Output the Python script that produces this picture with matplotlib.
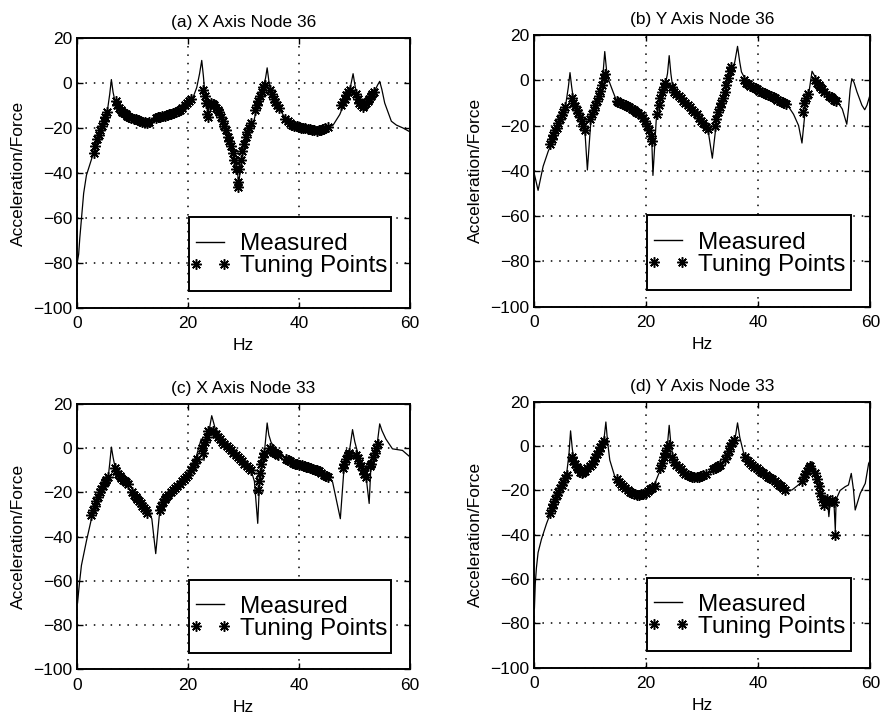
# frequency response comparison, 4 panels

import numpy as np
import matplotlib
matplotlib.use("Agg")
import matplotlib.pyplot as plt
from matplotlib.lines import Line2D
from matplotlib.patches import Rectangle
from matplotlib.legend_handler import HandlerLine2D

plt.rcParams['font.family'] = ['Liberation Sans', 'DejaVu Sans']

titles = ["(a) X Axis Node 36", "(b) Y Axis Node 36",
          "(c) X Axis Node 33", "(d) Y Axis Node 33"]

# (a) X axis node 36 - measured
a_hz = [0.1, 0.3, 0.5, 0.85, 1.2, 1.7, 2.6, 3.0, 3.5, 4.0, 4.5, 5.0, 5.5, 5.9, 6.2, 6.5, 6.8,
        7.7, 8.9, 10.0, 11.4, 12.6, 13.5, 14.4, 16.8, 18.6, 20.0, 21.0, 21.6, 22.1, 22.5, 22.8, 23.0,
        23.4, 23.7, 24.0, 24.6, 25.8, 27.0, 28.2, 28.8, 29.2, 29.7, 30.6, 31.8, 32.7, 33.6, 34.0,
        34.3, 34.6, 34.8, 35.4, 36.6, 37.8, 39.0, 41.4, 43.2, 45.0, 46.2, 47.4, 48.6, 49.3, 49.8,
        50.2, 50.7, 51.6, 52.8, 53.7, 54.2, 54.6, 55.0, 55.5, 56.7, 57.6, 58.8, 59.9]
a_db = [-79, -76, -69, -59, -49, -41, -34, -31, -26, -22, -19, -16, -12, -5, 1.5, -4, -7.5,
        -12, -14, -15.5, -17, -18, -16.5, -15.6, -14, -12, -8, -6, -2, 4, 10, 3, -3,
        -8, -13, -8, -9.6, -13.3, -22, -31, -38, -44, -34, -23.7, -17.8, -8.9, -1.5, 2,
        6.7, 1, -2, -6, -12, -16.4, -18.7, -20, -21.5, -20, -18.7, -14, -6.7, -2, 4.1,
        -2, -7.4, -10.4, -7.4, -3.7, -1, 0.7, -3, -8.9, -17, -18.7, -20, -21.5]
# (a) tuning points
a_tune_hz = [3.0, 3.3, 3.6, 3.9, 4.2, 4.5, 4.8, 5.1, 5.4,
             7.0, 7.3, 7.6, 7.9, 8.2, 8.5, 8.8, 9.1, 9.4, 9.8, 10.2, 10.6, 11.0, 11.4, 11.8, 12.2, 12.6, 12.9,
             14.2, 14.6, 15.0, 15.4, 15.8, 16.2, 16.6, 17.0, 17.4, 17.8, 18.2, 18.6, 19.0, 19.4, 19.8, 20.2, 20.6,
             22.8, 23.1, 23.3, 23.5, 23.7, 23.9, 24.2, 24.5, 24.8, 25.1, 25.4, 25.7, 26.0, 26.3, 26.6, 26.9,
             27.2, 27.5, 27.8, 28.1, 28.4, 28.7, 29.0, 29.1, 29.3, 29.5, 29.8, 30.1, 30.4, 30.7, 31.0, 31.3,
             32.1, 32.4, 32.7, 33.0, 33.3, 33.6, 33.9, 34.9, 35.2, 35.5, 35.8, 36.1, 36.4,
             37.6, 38.0, 38.4, 38.8, 39.2, 39.6, 40.0, 40.4, 40.8, 41.2, 41.6, 42.0, 42.4, 42.8, 43.2, 43.6,
             44.0, 44.4, 44.8, 45.2,
             47.7, 48.0, 48.3, 48.6, 48.9, 49.2, 50.3, 50.6, 50.9, 51.2, 51.5, 51.8,
             52.1, 52.4, 52.7, 53.0, 53.3, 53.6]
a_tune_db = [-31, -28, -25, -23, -21, -19, -17, -15, -13,
             -8, -10, -11, -12, -13, -13.5, -14, -14.5, -15, -15.5, -16, -16, -16.5, -17, -17.5, -17.5, -18, -17.5,
             -15.5, -15, -15, -14.8, -14.5, -14.3, -14, -13.8, -13.5, -13, -12.5, -12, -11, -10, -9, -8, -7,
             -3, -6, -9, -14, -15, -10, -9, -9.5, -10, -11, -12, -13, -15, -17, -19, -21,
             -24, -26, -28, -31, -34, -38, -44, -46, -38, -34, -30, -27, -24, -22, -20, -18,
             -12, -10, -8, -6, -4, -2, -1, -3, -5, -7, -8.5, -10, -11,
             -16, -17, -17.8, -18.5, -19, -19.3, -19.5, -19.8, -20, -20.2, -20.4, -20.6, -20.8, -21, -21.2, -21,
             -20.8, -20.5, -20, -19.5,
             -10, -8.5, -7, -5.5, -4, -3, -5, -7, -9, -10, -10.5, -10,
             -9, -8, -7, -6, -5, -4]

# (b) Y axis node 36 - measured
b_hz = [0.0, 0.7, 1.6, 2.5, 3.4, 4.0, 4.8, 5.5, 5.8, 6.1, 6.4, 6.7, 7.0, 7.6, 8.2, 8.8, 9.1, 9.5,
        10.1, 10.6, 11.2, 11.8, 12.2, 12.6, 12.9, 13.2, 14.1, 14.7, 16.0, 17.5, 19.0, 20.0, 20.5, 21.0,
        21.2, 21.8, 22.2, 22.8, 23.4, 23.8, 24.1, 24.4, 24.6, 25.5, 27.0, 28.5, 29.5, 30.2, 31.1, 31.8,
        32.6, 33.8, 35.0, 35.8, 36.3, 36.7, 37.0, 38.0, 39.7, 41.0, 42.7, 44.0, 45.1, 46.3, 47.2, 47.8,
        48.4, 49.0, 49.6, 50.5, 51.7, 52.3, 53.0, 54.0, 55.0, 55.8, 56.1, 56.4, 56.7, 57.1, 57.6, 58.5,
        59.0, 59.4, 60.0]
b_db = [-41, -48.6, -38, -31.4, -26, -22, -17, -13, -8, -3, 3.4, -3, -8.2, -12, -16, -20, -24, -39.6,
        -18.7, -14, -9, -4, 0, 12.7, 5, 0.7, -5.2, -9, -11, -13, -15, -18, -22, -27,
        -42, -17, -11, -6, -2, 3, 10.9, 3, -0.7, -5, -9, -13, -16, -19.4, -23, -34.4,
        -17, -8, 3, 8, 15, 8, 3.7, -1, -3, -4.5, -6.7, -8.5, -10.5, -15, -20, -27.7,
        -12.7, -6, 4, 0, -4, -5, -7.5, -9, -12.7, -19.4, -12.7, -4, 0.7, -1, -5, -11,
        -13, -11, -6]
b_tune_hz = [2.8, 3.1, 3.4, 3.7, 4.0, 4.3, 4.6, 4.9, 5.2, 5.5,
             6.7, 7.0, 7.3, 7.6, 7.9, 8.2, 8.5, 8.8, 9.1,
             10.0, 10.3, 10.6, 10.9, 11.2, 11.5, 11.8, 12.1, 12.4, 12.6,
             14.7, 15.0, 15.4, 15.8, 16.2, 16.6, 17.0, 17.4, 17.8, 18.2, 18.6, 19.0, 19.4, 19.8, 20.2, 20.5,
             20.8, 21.0,
             21.9, 22.2, 22.5, 22.8, 23.1, 23.4,
             24.6, 25.0, 25.4, 25.8, 26.2, 26.6, 27.0, 27.4, 27.8, 28.2, 28.6, 29.0, 29.4, 29.8, 30.2, 30.6,
             31.0,
             32.2, 32.5, 32.8, 33.1, 33.4, 33.7, 34.0, 34.3, 34.6, 34.9, 35.2,
             37.4, 37.8, 38.2, 38.6, 39.0, 39.4, 39.8, 40.2, 40.6, 41.0, 41.4, 41.8, 42.2, 42.6, 43.0, 43.4,
             43.8, 44.2, 44.6, 45.0,
             47.9, 48.2, 48.5, 48.8,
             50.2, 50.5, 50.8, 51.1, 51.4, 51.7,
             52.6, 52.9, 53.2, 53.5, 53.8]
b_tune_db = [-28, -26, -24, -22, -21, -19, -17, -15.5, -14, -12,
             -8, -10, -11.5, -13, -14.5, -16, -18, -20, -22,
             -17, -15, -13, -11, -9, -7, -4.5, -2, 1, 3,
             -9, -9.5, -10, -10.5, -11, -11.5, -12, -12.5, -13, -14, -14.5, -15.5, -16.5, -18, -20, -22,
             -24.5, -27,
             -15, -11, -8, -5, -3, -1,
             -3, -5, -6, -7, -8, -9, -10, -11, -12, -13, -14, -15, -16.5, -18, -19, -20.5,
             -21.5,
             -20, -17, -14, -12, -10, -8, -5, -2, 1, 4, 6,
             0, -1, -1.8, -2.5, -3, -3.5, -4, -4.5, -5, -5.5, -6, -6.5, -7, -7.5, -8, -8.5,
             -9, -9.5, -10, -10.5,
             -14, -10, -8, -6,
             0, -1, -2, -3, -4, -5,
             -7, -7.5, -8, -8.5, -9]

# (c) X axis node 33 - measured
c_hz = [0.1, 0.4, 0.8, 1.7, 2.6, 3.5, 4.5, 5.6, 5.9, 6.2, 6.5, 6.8, 7.5, 8.5, 9.5, 10.7, 11.8, 12.8,
        13.5, 14.2, 14.9, 16.0, 17.9, 19.7, 21.5, 22.4, 22.9, 23.4, 23.9, 24.3, 24.7, 25.1, 26.5, 28.1,
        30.5, 31.4, 32.0, 32.6, 32.9, 33.8, 34.3, 34.6, 35.0, 36.5, 37.7, 41.3, 44.9, 46.1, 47.5, 48.2,
        49.1, 49.7, 50.1, 50.6, 52.1, 52.7, 53.0, 54.0, 54.6, 55.0, 55.7, 56.9, 58.7, 59.9]
c_db = [-70, -62, -53, -42, -32, -25, -19, -13.8, -7, 0.5, -4, -7.8, -11, -14, -16.8, -21, -24, -27,
        -32, -47.7, -29, -25, -20, -13, -4, 4.2, -5.6, 2, 9, 14.7, 11, 7.2, 3, -1.8,
        -7.8, -10, -15, -34, -16.8, -2, 11.4, 6, 2.7, -3, -4.8, -7.8, -12.3, -15.3, -31.9, -7.8,
        -2, 8.4, 3, -1.8, -12, -25, -9, -1, 11, 8, 4.2, -0.3, -1, -3.6]
c_tune_hz = [2.6, 2.9, 3.2, 3.5, 3.8, 4.1, 4.4, 4.7, 5.0, 5.3, 5.6,
             6.8, 7.1, 7.4, 7.7, 8.0, 8.3, 8.6, 8.9, 9.2,
             10.0, 10.3, 10.6, 10.9, 11.2, 11.5, 11.8, 12.1, 12.4, 12.7,
             14.9, 15.2, 15.5, 15.8, 16.1, 16.5, 16.9, 17.3, 17.7, 18.1, 18.5, 18.9, 19.3, 19.7, 20.1, 20.5,
             20.9, 21.3, 21.6,
             22.5, 22.8, 23.1, 23.4, 23.7,
             24.6, 25.0, 25.4, 25.8, 26.2, 26.6, 27.0, 27.4, 27.8, 28.2, 28.6, 29.0, 29.4, 29.8, 30.2, 30.6,
             31.0, 31.4,
             32.6, 32.8, 33.0, 33.2, 33.5, 33.8,
             34.8, 35.1, 35.4, 35.7, 36.0, 36.3,
             37.7, 38.1, 38.5, 38.9, 39.3, 39.7, 40.1, 40.5, 40.9, 41.3, 41.7, 42.1, 42.5, 42.9, 43.3, 43.7,
             44.1, 44.5, 44.9, 45.3,
             47.9, 48.2, 48.5, 48.8, 49.1,
             50.3, 50.6, 50.9, 51.2, 51.5, 51.8, 52.1,
             52.8, 53.1, 53.4, 53.7, 54.0, 54.3]
c_tune_db = [-30, -28, -26, -24, -22, -20, -18.5, -17, -15.5, -14.5, -13,
             -9, -10.5, -11.5, -12.5, -13.5, -14.5, -15, -15.5, -16,
             -20, -21, -22, -23, -24, -25, -26, -27, -28, -29.5,
             -28, -26, -24.5, -23, -22, -21, -20, -19, -18, -17, -16, -15, -14, -13, -12, -10,
             -8.5, -6.5, -5,
             0, -2, 3, 5, 8,
             8, 6.5, 5, 4, 3, 2, 1, 0, -1, -2, -3, -4, -5, -6, -7, -8,
             -9, -10,
             -19, -15, -11, -7, -4, -2,
             0, -1, -1.5, -2, -2.5, -3,
             -5, -5.5, -6, -6.5, -7, -7.2, -7.5, -7.8, -8, -8.3, -8.6, -9, -9.3, -9.7, -10, -10.5,
             -11, -12, -12.5, -13,
             -9, -7, -5, -3, -2,
             -3, -4.5, -6.5, -8, -10, -11.5, -13,
             -8, -7, -4, -2, 0, 2]

# (d) Y axis node 33 - measured
d_hz = [0.05, 0.2, 0.4, 0.7, 1.3, 2.2, 3.1, 4.0, 5.0, 5.8, 6.2, 6.5, 6.8, 7.0, 7.6, 8.5, 9.2, 10.0,
        10.8, 11.5, 12.2, 12.5, 12.8, 13.1, 13.5, 14.4, 15.5, 17.0, 18.3, 19.5, 20.5, 21.3, 22.5, 23.4,
        23.8, 24.1, 24.4, 24.9, 26.0, 27.8, 29.0, 30.2, 31.5, 33.2, 34.4, 35.5, 35.9, 36.3, 36.7, 37.4,
        38.5, 39.7, 41.0, 42.7, 44.0, 44.8, 46.0, 47.5, 48.7, 49.6, 50.5, 51.0, 51.7, 52.3, 52.6, 52.9,
        53.5, 53.75, 53.9, 54.6, 55.5, 56.1, 56.6, 57.0, 57.3, 58.2, 59.1, 59.7, 60.0]
d_db = [-73, -62, -55, -48, -42, -35, -29, -23, -17, -12.3, -4, 6.9, -1, -4.8, -9, -12.3, -11, -9.3,
        -6, -3, 1, 4, 10.9, 2, -6.3, -13.8, -17, -20, -22, -21.5, -20, -18.3, -10.8, -4,
        1, 9.4, 1, -6.3, -10, -13.8, -14, -13, -11.5, -9.3, -4.8, 0, 4, 10.5, 4, -3.3,
        -7, -9.3, -11.5, -14.5, -17.5, -19.8, -19.8, -16.8, -12, -7, -15.3, -20, -27, -22.8, -31.8, -24,
        -25, -38, -24, -20, -18.3, -17.5, -12.3, -19.8, -28.8, -21.3, -16.8, -7.8, -6.3]
d_tune_hz = [2.8, 3.1, 3.4, 3.7, 4.0, 4.3, 4.6, 4.9, 5.2, 5.5, 5.8,
             6.7, 7.0, 7.3, 7.6, 7.9, 8.2, 8.5, 8.8, 9.1, 9.4,
             10.0, 10.3, 10.6, 10.9, 11.2, 11.5, 11.8, 12.1, 12.4,
             14.7, 15.1, 15.5, 15.9, 16.3, 16.7, 17.1, 17.5, 17.9, 18.3, 18.7, 19.1, 19.5, 19.9, 20.3, 20.7,
             21.1, 21.5,
             22.5, 22.8, 23.1, 23.4, 23.7, 24.0,
             24.6, 25.0, 25.4, 25.8, 26.2, 26.6, 27.0, 27.4, 27.8, 28.2, 28.6, 29.0, 29.4, 29.8, 30.2, 30.6,
             32.0, 32.3, 32.6, 32.9, 33.2,
             34.1, 34.4, 34.7, 35.0, 35.3, 35.6,
             37.7, 38.1, 38.5, 38.9, 39.3, 39.7, 40.1, 40.5, 40.9, 41.3, 41.7, 42.1, 42.5, 42.9, 43.3, 43.7,
             44.1, 44.5, 44.8,
             47.8, 48.1, 48.4, 48.7, 49.0, 49.3,
             50.2, 50.5, 50.8, 51.1, 51.4, 51.7,
             52.3, 52.7, 53.1, 53.5, 53.75]
d_tune_db = [-30, -28, -26, -24, -22, -20.5, -19, -17.5, -16, -14.5, -13,
             -5, -6.5, -8, -9.5, -10.5, -11.5, -12, -11.5, -11, -10,
             -9, -8, -6.5, -5, -3.5, -2, -0.5, 1, 2.5,
             -15, -16, -17, -18, -19, -19.8, -20.5, -21, -21.5, -22, -22, -21.8, -21.5, -21, -20.3, -19.5,
             -18.8, -18,
             -10, -7.5, -5, -3, -1, 0.5,
             -5, -7, -8.5, -9.5, -10.5, -11.5, -12.5, -13, -13.5, -14, -14, -14, -13.8, -13.5, -13, -12.5,
             -10.5, -10, -9.5, -9, -8.5,
             -6, -4, -2, 0, 1.5, 3,
             -5, -6.5, -7.5, -8.5, -9.3, -10, -10.8, -11.5, -12.2, -13, -13.7, -14.3, -15, -15.7, -16.5, -17.3,
             -18, -19, -20,
             -15.5, -14, -12.5, -11, -10, -9,
             -12, -15, -18, -21, -24, -26.5,
             -24, -25, -24.5, -25, -40]

measured = [(a_hz, a_db), (b_hz, b_db), (c_hz, c_db), (d_hz, d_db)]
tuning = [(a_tune_hz, a_tune_db), (b_tune_hz, b_tune_db),
          (c_tune_hz, c_tune_db), (d_tune_hz, d_tune_db)]

star = (8, 2, 0)  # matlab style asterisk

fig = plt.figure(figsize=(8.8, 7.15), dpi=100)
rects = [[0.0875, 0.569, 0.378, 0.378], [0.607, 0.571, 0.382, 0.380],
         [0.0875, 0.064, 0.378, 0.371], [0.607, 0.066, 0.382, 0.372]]

for i in range(4):
    ax = fig.add_axes(rects[i])
    ax.plot(measured[i][0], measured[i][1], color='black', linewidth=0.9)
    ax.plot(tuning[i][0], tuning[i][1], linestyle='none', marker=star, markersize=7.5,
            markeredgewidth=1.1, color='black')
    ax.set_xlim(0, 60)
    ax.set_ylim(-100, 20)
    ax.set_xticks([0, 20, 40, 60])
    ax.set_yticks(np.arange(-100, 21, 20))
    ax.grid(True, color='black', linestyle=(0, (1, 4.5)), linewidth=1.1)
    ax.tick_params(direction='in', top=True, right=True, length=4, width=1, labelsize=12.5)
    ax.tick_params(axis='x', pad=6)
    for s in ax.spines.values():
        s.set_linewidth(1.4)
    ax.set_title(titles[i], fontsize=12.5, pad=8)
    ax.set_xlabel("Hz", fontsize=12.5, labelpad=5)
    ax.set_ylabel("Acceleration/Force", fontsize=12.5, labelpad=5)

    # legend box (frame drawn separately so its padding matches the original)
    ax.add_patch(Rectangle((0.337, 0.063), 0.606, 0.274, transform=ax.transAxes,
                           facecolor='white', edgecolor='black', linewidth=1.4, zorder=4.5))
    handles = [Line2D([], [], color='black', linewidth=1.0),
               Line2D([], [], color='black', linestyle='none', marker=star,
                      markersize=7.5, markeredgewidth=1.1)]
    ax.legend(handles, ["Measured", "Tuning Points"], loc='center left',
              bbox_to_anchor=(0.357, 0.195), borderaxespad=0, borderpad=0, fontsize=17.5,
              numpoints=2, handlelength=1.15, handletextpad=0.66, labelspacing=0.0,
              frameon=False, handler_map={Line2D: HandlerLine2D(marker_pad=0.0)})

fig.savefig("out.png", dpi=100)
